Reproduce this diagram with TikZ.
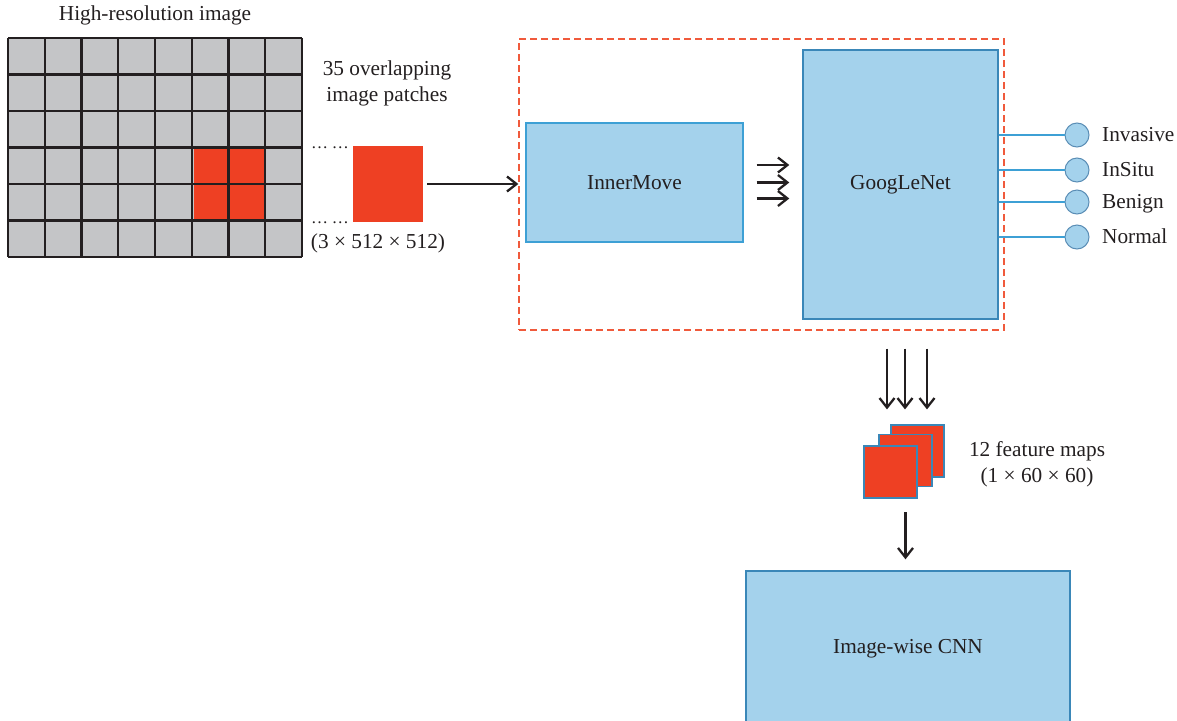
\documentclass[tikz,border=0pt]{standalone}
\usepackage{fontspec}
\setmainfont{Liberation Serif}
\usetikzlibrary{arrows.meta}
\definecolor{redp}{HTML}{EE4023}
\definecolor{greyc}{HTML}{C4C5C7}
\definecolor{boxfill}{HTML}{A4D2EC}
\definecolor{boxline}{HTML}{3DA0D5}
\definecolor{boxdark}{HTML}{3A87B8}
\definecolor{txt}{HTML}{231F20}
\definecolor{dashred}{HTML}{F05A3C}
\definecolor{circline}{HTML}{5A8DB5}
\begin{document}
\begin{tikzpicture}[x=1pt,y=-1pt,
  every node/.style={font=\fontsize{21.3}{26}\selectfont, text=txt},
  arr/.style={-{Straight Barb[length=9.5pt,width=15pt]}, line width=2.3pt, draw=txt},
  bluebox/.style={draw=boxline, fill=boxfill, line width=1.4pt, inner sep=0pt},
  darkbox/.style={draw=boxdark, fill=boxfill, line width=1.4pt, inner sep=0pt},
  fmap/.style={draw=boxdark, fill=redp, line width=1.2pt, minimum width=53pt, minimum height=52pt, inner sep=0pt},
  outc/.style={circle, draw=circline, fill=boxfill, line width=1pt, minimum size=24pt, inner sep=0pt},
  outl/.style={draw=boxline, line width=1.4pt},
  dashbox/.style={draw=dashred, line width=1.3pt, dash pattern=on 7pt off 4pt, inner sep=0pt},
  gridline/.style={draw=txt, line width=2.2pt},
  dotsstyle/.style={anchor=base, font=\fontsize{17}{20}\selectfont, inner sep=0pt}
]
\useasboundingbox (0,0) rectangle (1177,720);

% high-resolution image grid
\node (title) at (155,15) {High-resolution image};
\fill[greyc] (8,38) rectangle (302,257);
\fill[redp] (193.5,147.5) rectangle (264.25,220.5);
\foreach \i in {0,...,8} {\draw[gridline] ({8+\i*36.75},38) -- ({8+\i*36.75},257);}
\foreach \j in {0,...,6} {\draw[gridline] (8,{38+\j*36.5}) -- (302,{38+\j*36.5});}

% patches
\node[align=center] (ptxt) at (387,83) {35 overlapping\\image patches};
\node[dotsstyle] (dots1) at (330,148.5) {\dots\hspace{4pt}\dots};
\node[dotsstyle] (dots2) at (330,223.5) {\dots\hspace{4pt}\dots};
\node[fill=redp, minimum width=70pt, minimum height=76pt, inner sep=0pt] (patch) at (388,184) {};
\node (psize) at (378,243) {(3 × 512 × 512)};

% dashed module
\node[dashbox, minimum width=485pt, minimum height=291pt] (module) at (761.5,184.5) {};
\node[bluebox, minimum width=217pt, minimum height=119pt] (inner) at (634.5,182.5) {InnerMove};
\node[darkbox, minimum width=195pt, minimum height=269pt] (goog) at (900.5,184.5) {GoogLeNet};

\draw[arr, shorten <=4pt] (patch.east) -- (patch.east -| module.west);

\foreach \dy in {17.5,0,-16}
  \draw[arr, shorten <=13pt, shorten >=13pt] ([yshift=\dy pt]inner.east) -- ([yshift=\dy pt]inner.east -| goog.west);

% outputs
\node[outc] (c1) at (1077,135) {};
\node[outc] (c2) at (1077,170) {};
\node[outc] (c3) at (1077,202) {};
\node[outc] (c4) at (1077,237) {};
\node[anchor=base west, inner sep=0pt] (l1) at (1102,141.5) {Invasive};
\node[anchor=base west, inner sep=0pt] (l2) at (1102,176.5) {InSitu};
\node[anchor=base west, inner sep=0pt] (l3) at (1102,208.5) {Benign};
\node[anchor=base west, inner sep=0pt] (l4) at (1102,243.5) {Normal};
\foreach \k in {1,2,3,4} \draw[outl] (goog.east |- c\k) -- (c\k);

% feature maps
\node[fmap] (fm3) at (917.5,451) {};
\node[fmap] (fm2) at (905.5,460.5) {};
\node[fmap] (fm1) at (890.5,472) {};
\node[align=center] (ftxt) at (1037,464.5) {12 feature maps\\(1 × 60 × 60)};

\foreach \dx in {-13.5,4.5,26.5}
  \draw[arr, shorten <=29pt, shorten >=15pt] ([xshift=\dx pt]goog.south) -- ([xshift=\dx pt]goog.south |- fm3.north);

% image-wise CNN
\node[darkbox, minimum width=324pt, minimum height=156pt] (cnn) at (908,649) {Image-wise CNN};
\draw[arr, shorten <=25pt, shorten >=11pt] (fm2.south) -- (fm2.south |- cnn.north);
\end{tikzpicture}
\end{document}
